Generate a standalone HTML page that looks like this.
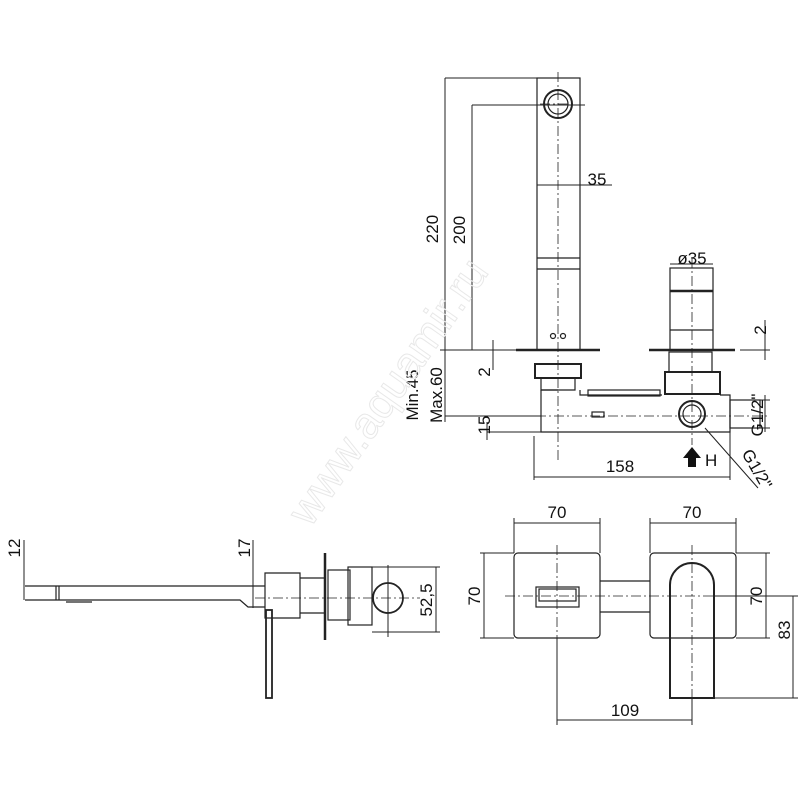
<!DOCTYPE html>
<html><head><meta charset="utf-8"><style>html,body{margin:0;background:#fff}svg{display:block}text{font-family:"Liberation Sans",sans-serif;fill:#111}</style></head><body>
<svg width="800" height="800" viewBox="0 0 800 800" xmlns="http://www.w3.org/2000/svg">
<g fill="none" stroke="#222" stroke-width="1.2">
<rect x="537" y="78" width="43" height="272"/>
<circle cx="558" cy="104" r="14" stroke-width="2"/><circle cx="558" cy="104" r="10"/>
<line x1="537" y1="258" x2="580" y2="258"/><line x1="537" y1="269" x2="580" y2="269"/>
<circle cx="553" cy="336" r="2.5"/><circle cx="563" cy="336" r="2.5"/>
<line x1="516" y1="350" x2="600" y2="350" stroke-width="2.5"/>
<line x1="649" y1="350" x2="735" y2="350" stroke-width="2.5"/>
<rect x="670" y="268" width="43" height="82"/>
<line x1="670" y1="291" x2="713" y2="291" stroke-width="2.5"/><line x1="670" y1="330" x2="713" y2="330"/>
<rect x="669" y="352" width="43" height="20"/>
<rect x="665" y="372" width="55" height="22" stroke-width="2"/>
<rect x="535" y="364" width="46" height="14" stroke-width="2"/>
<path d="M541 378 V390 H575 V378"/>
<path d="M541 390 V432 H730 V395 H720 M541 390 H558 M580 390 V395 H662"/>
<rect x="588" y="390" width="72" height="6"/>
<rect x="730" y="400" width="30" height="28"/>
<circle cx="692" cy="414" r="13" stroke-width="2"/><circle cx="692" cy="414" r="9"/>
<rect x="592" y="412" width="12" height="5"/>
<path d="M445 78 H537 M445 78 V422 M472 105 H585 M472 105 V350 M440 350 H516 M445 416 H541 M487 432 H541 M487 422 V440 M493 340 V370 M537 185 H612 M670 264 H713 M740 350 H770 M765 320 V360 M534 436 V480 M730 432 V480 M534 477 H730 M740 400 H770 M740 428 H770 M765 395 V432 M705 428 L758 488" stroke-width="1"/>
<g stroke-dasharray="10 3 2 3" stroke-width="0.8"><line x1="558" y1="72" x2="558" y2="460"/><line x1="692" y1="258" x2="692" y2="445"/><line x1="540" y1="104" x2="575" y2="104"/><line x1="500" y1="416" x2="770" y2="416"/></g>
<path d="M25 586 H265 M25 600 H240 L248 607 H265 M56 586 V600 M59 586 V600 M66 602 H92" />
<path d="M265 573 H300 V618 H265 Z M300 578 H325 V613 H300"/>
<line x1="325" y1="553" x2="325" y2="640" stroke-width="2.5"/>
<rect x="266" y="610" width="6" height="88" stroke-width="1.8"/>
<rect x="328" y="570" width="22" height="50"/><rect x="348" y="567" width="24" height="58"/>
<circle cx="388" cy="598" r="15" stroke-width="1.8"/>
<path d="M24 540 V600 M253 540 V608 M372 567 H440 M372 632 H440 M436 567 V632 M388 565 V637" stroke-width="1"/>
<line x1="255" y1="598" x2="420" y2="598" stroke-dasharray="10 3 2 3" stroke-width="0.8"/>
<rect x="514" y="553" width="86" height="85" rx="4"/>
<rect x="650" y="553" width="86" height="85" rx="4"/>
<rect x="536" y="587" width="43" height="20"/><rect x="539" y="589" width="37" height="12"/>
<path d="M600 581 H650 M600 612 H650"/>
<path d="M670 698 V585 A22 22 0 0 1 714 585 V698 Z" stroke-width="2"/>
<path d="M514 518 V553 M600 518 V553 M514 523 H600 M650 518 V553 M736 518 V553 M650 523 H736 M480 553 H514 M480 638 H514 M484 553 V638 M736 553 H770 M736 638 H770 M766 553 V638 M714 596 H798 M714 698 H798 M793 596 V698 M557 638 V725 M692 698 V725 M557 720 H692" stroke-width="1"/>
<g stroke-dasharray="10 3 2 3" stroke-width="0.8"><line x1="505" y1="596" x2="745" y2="596"/><line x1="557" y1="545" x2="557" y2="640"/><line x1="692" y1="545" x2="692" y2="700"/></g>
</g>
<path d="M692 447 L683 458 H688 V467 H696 V458 H701 Z" fill="#111"/>
<g font-size="17">
<text x="597" y="185" text-anchor="middle">35</text>
<text x="692" y="264" text-anchor="middle">ø35</text>
<text x="620" y="472" text-anchor="middle">158</text>
<text x="705" y="466">H</text>
<text transform="translate(438,229) rotate(-90)" text-anchor="middle">220</text>
<text transform="translate(465,230) rotate(-90)" text-anchor="middle">200</text>
<text transform="translate(490,372) rotate(-90)" text-anchor="middle">2</text>
<text transform="translate(490,425) rotate(-90)" text-anchor="middle">15</text>
<text transform="translate(418,395) rotate(-90)" text-anchor="middle">Min.45</text>
<text transform="translate(442,395) rotate(-90)" text-anchor="middle">Max.60</text>
<text transform="translate(766,330) rotate(-90)" text-anchor="middle">2</text>
<text transform="translate(763,415) rotate(-90)" text-anchor="middle">G1/2"</text>
<text transform="translate(752,472) rotate(60)" text-anchor="middle">G1/2"</text>
<text transform="translate(20,548) rotate(-90)" text-anchor="middle">12</text>
<text transform="translate(250,548) rotate(-90)" text-anchor="middle">17</text>
<text transform="translate(432,600) rotate(-90)" text-anchor="middle">52,5</text>
<text x="557" y="518" text-anchor="middle">70</text>
<text x="692" y="518" text-anchor="middle">70</text>
<text transform="translate(480,596) rotate(-90)" text-anchor="middle">70</text>
<text transform="translate(762,596) rotate(-90)" text-anchor="middle">70</text>
<text transform="translate(790,630) rotate(-90)" text-anchor="middle">83</text>
<text x="625" y="716" text-anchor="middle">109</text>
</g>
<text transform="translate(400,400) rotate(-55)" text-anchor="middle" font-size="44" style="fill:none;stroke:#e8e8e8;stroke-width:1">www.aquamir.ru</text>
</svg>
</body></html>
